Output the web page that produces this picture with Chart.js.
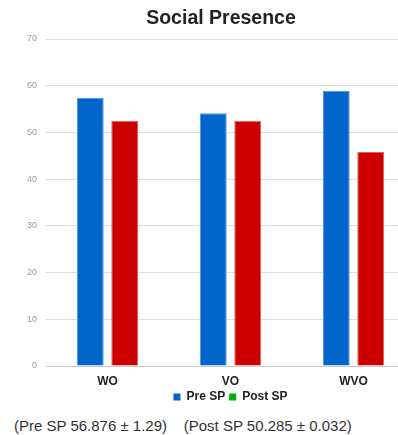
<!DOCTYPE html>
<html>
<head>
<meta charset="utf-8">
<script src="https://cdn.jsdelivr.net/npm/chart.js@4/dist/chart.umd.min.js"></script>
<style>
    html, body { margin: 0; padding: 0; background: #fff; overflow: hidden; }
    #wrap { position: relative; width: 415px; height: 413px; }
    #note {
        position: absolute; left: 14px; top: 417px;
        font: 15px Arial, "Liberation Sans", sans-serif; color: #333;
        white-space: pre;
    }
</style>
</head>
<body>
<div id="wrap"><canvas id="spChart"></canvas></div>
<div id="note">(Pre SP 56.876 ± 1.29)    (Post SP 50.285 ± 0.032)</div>
<script>
const categories = ['WO', 'VO', 'WVO'];
const preSP = [57.4, 54.1, 58.9];
const postSP = [52.5, 52.5, 45.8];
const yTicks = [0, 10, 20, 30, 40, 50, 60, 70];

// legend swatch for Post SP is green in the original, bars are red
const barColors = ['#0066cc', '#cc0000'];
const edgeColors = ['#4d94db', '#e06060'];
const legendColors = ['#0066cc', '#00b000'];

Chart.defaults.font.family = 'Arial, "Liberation Sans", sans-serif';

const ctx = document.getElementById('spChart').getContext('2d');

new Chart(ctx, {
    type: 'bar',
    data: {
        labels: categories,
        datasets: [
            { label: 'Pre SP', data: preSP, backgroundColor: barColors[0], borderColor: edgeColors[0], borderWidth: 1 },
            { label: 'Post SP', data: postSP, backgroundColor: barColors[1], borderColor: edgeColors[1], borderWidth: 1 }
        ]
    },
    options: {
        responsive: true,
        maintainAspectRatio: false,
        animation: false,
        categoryPercentage: 0.56,
        barPercentage: 0.78,
        layout: { padding: { left: 27, right: 0, top: 0, bottom: 0 } },
        plugins: {
            title: {
                display: true,
                text: 'Social Presence',
                color: '#222',
                font: { size: 19.5, weight: 'bold' },
                padding: { top: 7, bottom: 8.6 }
            },
            legend: {
                position: 'bottom',
                fullSize: false,
                labels: {
                    boxWidth: 7,
                    boxHeight: 7,
                    padding: 4,
                    color: '#222',
                    font: { size: 12, weight: 'bold' },
                    generateLabels: function (chart) {
                        return chart.data.datasets.map((ds, i) => ({
                            text: ds.label,
                            fillStyle: legendColors[i],
                            strokeStyle: legendColors[i],
                            lineWidth: 0,
                            fontColor: '#222',
                            datasetIndex: i
                        }));
                    }
                }
            },
            tooltip: { enabled: false }
        },
        scales: {
            x: {
                grid: { display: false, drawTicks: false },
                border: { display: false },
                afterFit: axis => { axis.height = 21; },
                ticks: {
                    color: '#222',
                    padding: 15.5,
                    font: { size: 12, weight: 'bold', lineHeight: '1px' }
                }
            },
            y: {
                min: 0,
                max: 70,
                border: { display: false },
                afterFit: axis => { axis.width = 19; },
                grid: {
                    drawTicks: false,
                    color: c => c.tick && c.tick.value === 0 ? '#c8c8c8' : '#dddddd'
                },
                afterBuildTicks: axis => { axis.ticks = yTicks.map(v => ({ value: v })); },
                ticks: {
                    color: '#999',
                    padding: 9,
                    font: { size: 9 }
                }
            }
        }
    }
});
</script>
</body>
</html>
